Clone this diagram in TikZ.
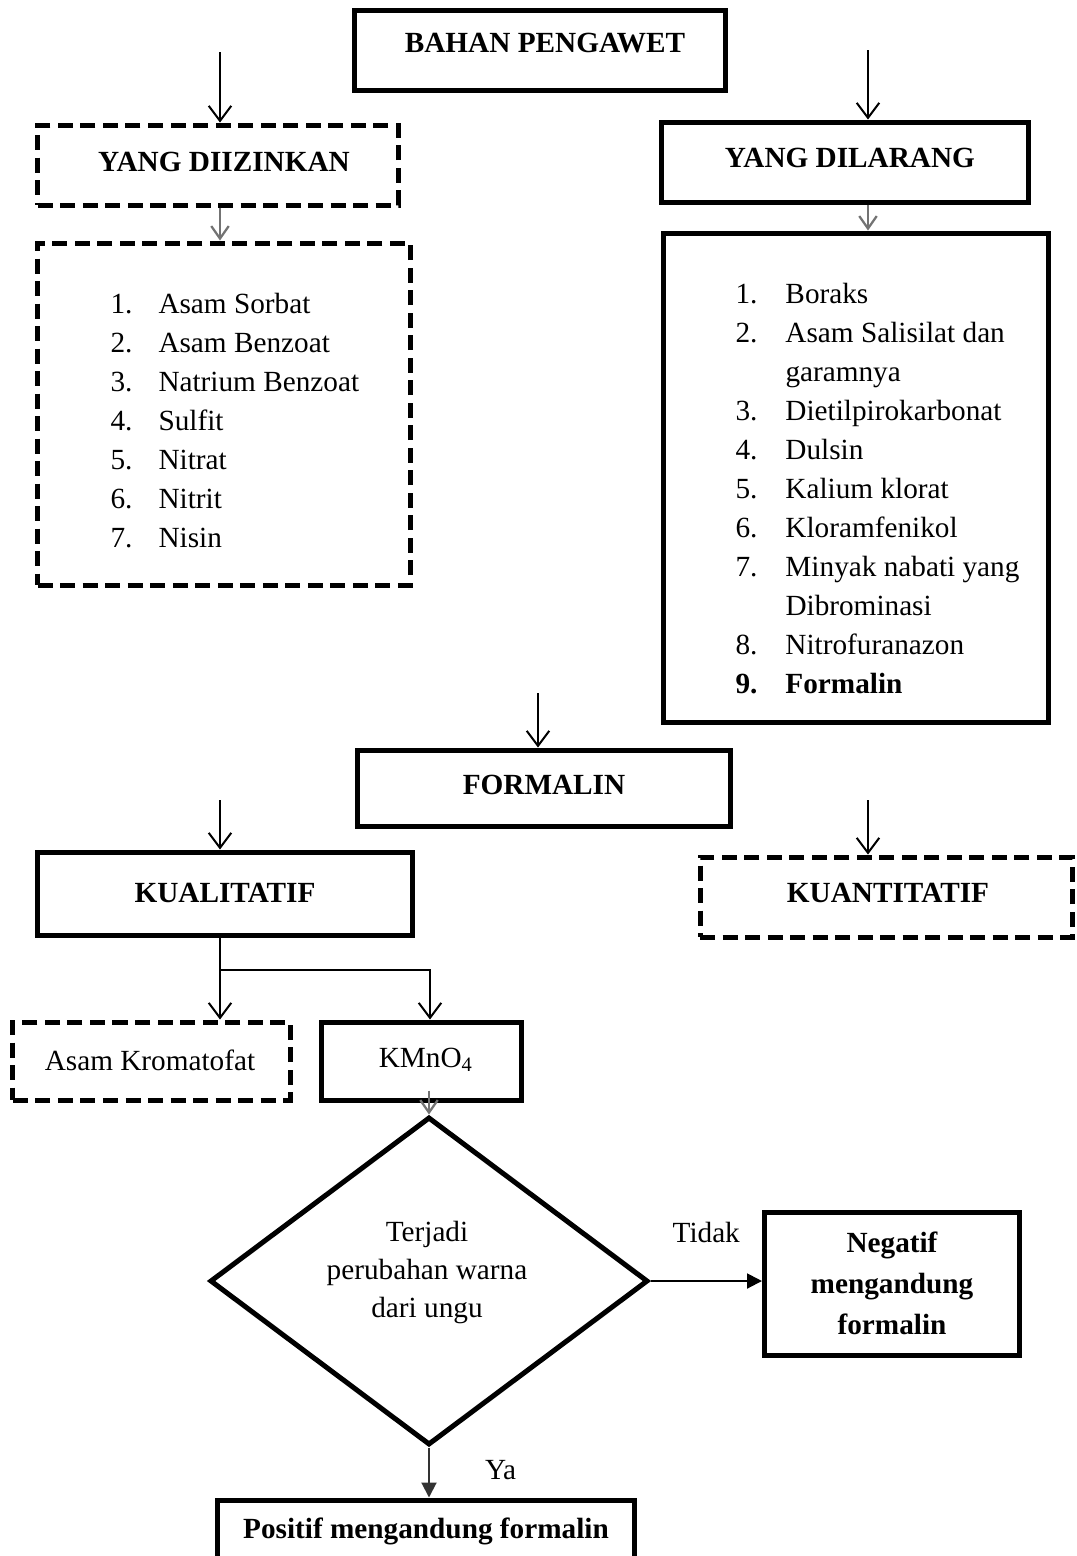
\documentclass[tikz,border=0pt]{standalone}
\usepackage{fontspec}
\setmainfont{Liberation Serif}
\usetikzlibrary{arrows.meta,shapes.geometric,calc}
\begin{document}
\begin{tikzpicture}[x=0.4pt,y=-0.4pt,
  every node/.style={font=\fontsize{11.7}{15.6}\selectfont},
  solidbox/.style={draw, line width=2pt, inner sep=0pt},
  dashbox/.style={draw, line width=2pt, dash pattern=on 6pt off 3pt, inner sep=0pt},
  lbl/.style={inner sep=0pt},
  arr/.style={line width=0.8pt, -{Straight Barb[length=6pt,width=9pt,line width=0.8pt]}},
  grayarr/.style={draw=black!55, line width=0.9pt, -{Straight Barb[length=5pt,width=7pt,line width=0.9pt]}},
  farr/.style={line width=0.8pt, -{Triangle[length=6pt,width=6pt]}},
]
\useasboundingbox (0,0) rectangle (1076,1556);
\clip (0,0) rectangle (1076,1556);

% boxes
\node[solidbox, minimum width=148pt, minimum height=32pt] (bahan) at (540,50) {};
\node[lbl] (tbahan) at (545,43) {\bfseries BAHAN PENGAWET};

\node[dashbox, minimum width=144pt, minimum height=32pt] (izin) at (218,165) {};
\node[lbl] (tizin) at (224,162) {\bfseries YANG DIIZINKAN};

\node[dashbox, minimum width=149pt, minimum height=136.8pt] (listA) at (224,414) {};
\node[lbl, anchor=base west] (itemsA) at (110,313) {\begin{tabular}[t]{@{}p{19.2pt}@{}l@{}}
1. & Asam Sorbat\\
2. & Asam Benzoat\\
3. & Natrium Benzoat\\
4. & Sulfit\\
5. & Nitrat\\
6. & Nitrit\\
7. & Nisin
\end{tabular}};

\node[solidbox, minimum width=147pt, minimum height=32pt] (larang) at (845,162) {};
\node[lbl] (tlarang) at (850,158) {\bfseries YANG DILARANG};

\node[solidbox, minimum width=154pt, minimum height=195.6pt] (listB) at (855.5,477.5) {};
\node[lbl, anchor=base west] (itemsB) at (735,303) {\begin{tabular}[t]{@{}p{20pt}@{}l@{}}
1. & Boraks\\
2. & Asam Salisilat dan\\
   & garamnya\\
3. & Dietilpirokarbonat\\
4. & Dulsin\\
5. & Kalium klorat\\
6. & Kloramfenikol\\
7. & Minyak nabati yang\\
   & Dibrominasi\\
8. & Nitrofuranazon\\
\textbf{9.} & \textbf{Formalin}
\end{tabular}};

\node[solidbox, minimum width=148.8pt, minimum height=30.4pt] (formalin) at (544,788) {};
\node[lbl] (tformalin) at (544,785) {\bfseries FORMALIN};

\node[solidbox, minimum width=149.6pt, minimum height=33.2pt] (kual) at (225,893.5) {};
\node[lbl] (tkual) at (225,893) {\bfseries KUALITATIF};

\node[dashbox, minimum width=148.8pt, minimum height=32pt] (kuan) at (886,897) {};
\node[lbl] (tkuan) at (888,893) {\bfseries KUANTITATIF};

\node[dashbox, minimum width=110.8pt, minimum height=31.2pt] (asam) at (151.5,1061) {};
\node[lbl] (tasam) at (150,1060) {Asam Kromatofat};

\node[solidbox, minimum width=80pt, minimum height=31.2pt] (kmno) at (421,1061) {};
\node[lbl] (tkmno) at (426,1060) {KMnO\textsubscript{4}};

\node[draw, diamond, line width=2pt, inner sep=0pt, minimum width=175.2pt, minimum height=131.2pt] (dia) at (429,1281) {};
\node[lbl, align=center, font=\fontsize{11.7}{15.2}\selectfont] (tdia) at (427,1272) {Terjadi\\perubahan warna\\dari ungu};

\node[solidbox, minimum width=102pt, minimum height=57.2pt, align=center, font=\fontsize{11.7}{16.4}\selectfont\bfseries] (neg) at (892,1283.5) {Negatif\\mengandung\\formalin};

\node[solidbox, minimum width=166.4pt, minimum height=32pt] (pos) at (426,1540) {};
\node[lbl] (tpos) at (426,1531) {\bfseries Positif mengandung formalin};

% connectors
\coordinate (s1) at (220,52);
\coordinate (s2) at (868,50);
\coordinate (s3) at (538,693);
\coordinate (s4) at (220,800);
\coordinate (s5) at (868,800);
\coordinate (br) at (220,970);

\draw[arr] (s1) -- (s1 |- izin.north);
\draw[arr] (s2) -- (s2 |- larang.north);
\draw[grayarr] (izin.south -| s1) -- (s1 |- listA.north);
\draw[grayarr] (larang.south -| s2) -- (s2 |- listB.north);
\draw[arr] (s3) -- (s3 |- formalin.north);
\draw[arr] (s4) -- (s4 |- kual.north);
\draw[arr] (s5) -- (s5 |- kuan.north);
\draw[line width=0.8pt] (kual.south -| br) -- (br);
\draw[arr] (br) -- (br |- asam.north);
\draw[arr] (br) -| ($(kmno.north)+(9,0)$);
\draw[grayarr] ($(kmno.south)+(8,-12)$) -- (dia.north);
\draw[farr] (dia.east) -- node[lbl, above=15pt] (ltidak) {Tidak} (dia.east -| neg.west);
\draw[farr, draw=black!80] (dia.south) -- node[lbl, right=22pt, pos=0.45] (lya) {Ya} (dia.south |- pos.north);
\end{tikzpicture}
\end{document}
